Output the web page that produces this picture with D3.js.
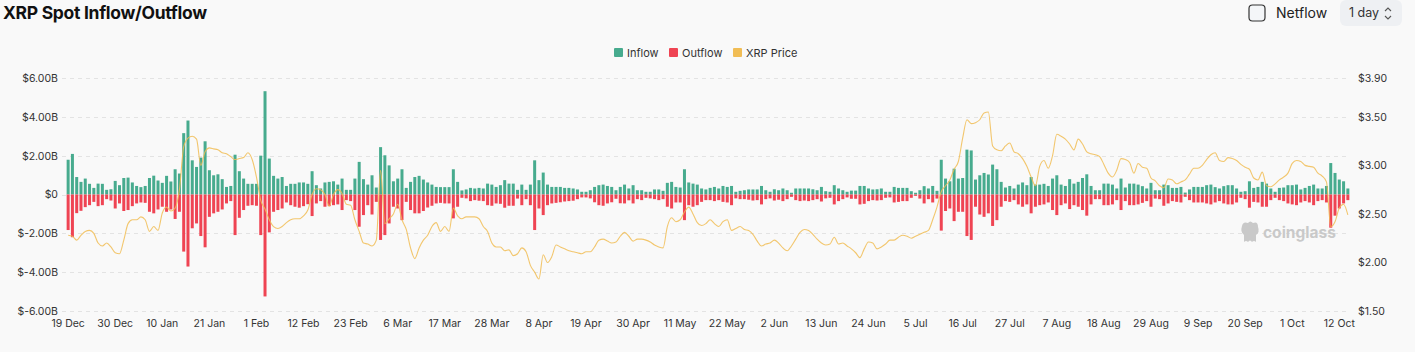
<!DOCTYPE html>
<html>
<head>
<meta charset="utf-8">
<script src="https://cdn.jsdelivr.net/npm/d3@7/dist/d3.min.js"></script>
<style>
  html, body { margin: 0; padding: 0; background: #f9f9f9; }
  svg { display: block; font-family: Inter, "Noto Sans", sans-serif; }
</style>
</head>
<body>
<div id="chart"></div>
<script>
// daily categories, 19 Dec 2024 .. 14 Oct 2025
var startDay = new Date( 2024, 11, 19 ),
  endDay = new Date( 2025, 9, 15 );
var days = d3.timeDay.range( startDay, endDay );

// spot inflow, $B per day
var inflow = [
  1.79, 2.09, 0.90, 0.65, 0.82, 0.55, 0.34, 0.56, 0.55, 0.24, 0.27, 0.70, 0.48, 0.85, 0.87, 0.62, 0.44, 0.38, 0.44, 0.85,
  0.97, 0.72, 0.60, 0.96, 0.67, 1.30, 1.08, 3.16, 3.81, 1.76, 1.42, 1.90, 2.74, 1.25, 0.99, 1.04, 0.79, 0.39, 0.44, 2.05,
  1.20, 0.82, 0.55, 0.55, 0.55, 2.00, 5.32, 1.85, 0.96, 0.82, 0.90, 0.44, 0.55, 0.55, 0.62, 0.62, 0.55, 1.20, 0.48, 0.31,
  0.62, 0.65, 0.68, 0.51, 0.82, 0.24, 0.24, 0.82, 1.68, 0.79, 0.51, 0.99, 0.36, 2.44, 2.02, 1.50, 0.68, 0.82, 1.30, 0.34,
  0.65, 0.90, 0.96, 0.77, 0.62, 0.51, 0.39, 0.38, 0.38, 0.38, 1.30, 0.65, 0.21, 0.26, 0.34, 0.31, 0.34, 0.31, 0.56, 0.51,
  0.39, 0.48, 0.74, 0.56, 0.56, 0.24, 0.51, 0.24, 0.51, 1.76, 0.74, 1.13, 0.51, 0.39, 0.39, 0.39, 0.34, 0.34, 0.31, 0.26,
  0.14, 0.14, 0.22, 0.39, 0.48, 0.51, 0.44, 0.39, 0.22, 0.39, 0.51, 0.31, 0.48, 0.22, 0.22, 0.14, 0.14, 0.26, 0.26, 0.19,
  0.60, 0.65, 0.39, 0.36, 1.30, 0.62, 0.56, 0.51, 0.31, 0.26, 0.34, 0.39, 0.31, 0.44, 0.39, 0.44, 0.14, 0.19, 0.22, 0.26,
  0.26, 0.26, 0.44, 0.22, 0.14, 0.27, 0.22, 0.31, 0.22, 0.09, 0.31, 0.31, 0.31, 0.31, 0.27, 0.22, 0.39, 0.17, 0.14, 0.48,
  0.31, 0.22, 0.14, 0.20, 0.20, 0.44, 0.44, 0.31, 0.26, 0.27, 0.31, 0.14, 0.14, 0.39, 0.34, 0.34, 0.34, 0.17, 0.09, 0.22,
  0.43, 0.31, 0.44, 0.19, 1.79, 0.82, 0.68, 1.33, 0.82, 0.85, 2.31, 2.27, 0.77, 0.99, 1.11, 1.03, 1.54, 1.30, 0.65, 0.36,
  0.44, 0.31, 0.51, 0.62, 0.48, 0.90, 0.51, 0.51, 0.55, 0.44, 0.82, 0.99, 0.51, 0.44, 0.79, 0.56, 0.65, 0.85, 1.04, 0.44,
  0.22, 0.22, 0.56, 0.56, 0.51, 0.31, 0.82, 0.36, 0.56, 0.56, 0.51, 0.43, 0.31, 0.60, 0.22, 0.22, 0.51, 0.48, 0.34, 0.34,
  0.39, 0.10, 0.26, 0.39, 0.39, 0.39, 0.48, 0.51, 0.38, 0.31, 0.43, 0.48, 0.48, 0.31, 0.14, 0.17, 0.68, 0.34, 0.39, 0.65,
  0.56, 0.31, 0.14, 0.34, 0.36, 0.48, 0.48, 0.51, 0.26, 0.34, 0.44, 0.51, 0.31, 0.31, 0.44, 1.62, 1.11, 0.77, 0.68, 0.31
];

// spot outflow, $B per day (drawn below zero)
var outflow = [
  1.83, 2.20, 0.96, 0.84, 0.65, 0.55, 0.38, 0.60, 0.55, 0.24, 0.31, 0.72, 0.46, 0.85, 0.80, 0.60, 0.46, 0.41, 0.43, 0.89,
  0.97, 0.77, 0.63, 0.89, 0.77, 1.26, 0.89, 2.94, 3.71, 1.74, 1.49, 2.14, 2.72, 1.15, 0.97, 0.89, 0.77, 0.46, 0.34, 2.09,
  1.20, 0.80, 0.58, 0.55, 0.58, 2.09, 5.25, 1.95, 0.89, 0.80, 0.72, 0.41, 0.55, 0.63, 0.68, 0.60, 0.50, 1.11, 0.46, 0.34,
  0.63, 0.60, 0.55, 0.51, 0.80, 0.29, 0.34, 0.80, 1.66, 1.06, 0.55, 1.03, 0.38, 2.34, 2.09, 1.49, 0.63, 0.72, 1.32, 0.38,
  0.80, 0.97, 0.97, 0.85, 0.67, 0.58, 0.46, 0.43, 0.46, 0.46, 1.23, 0.63, 0.17, 0.20, 0.34, 0.29, 0.32, 0.34, 0.55, 0.58,
  0.46, 0.48, 0.68, 0.58, 0.58, 0.21, 0.55, 0.24, 0.55, 1.83, 0.72, 1.06, 0.55, 0.46, 0.43, 0.40, 0.36, 0.34, 0.32, 0.24,
  0.15, 0.15, 0.20, 0.40, 0.55, 0.58, 0.46, 0.40, 0.22, 0.45, 0.46, 0.30, 0.46, 0.24, 0.29, 0.17, 0.20, 0.24, 0.29, 0.24,
  0.63, 0.72, 0.41, 0.41, 1.32, 0.55, 0.63, 0.55, 0.38, 0.29, 0.29, 0.34, 0.29, 0.38, 0.41, 0.55, 0.20, 0.24, 0.24, 0.27,
  0.31, 0.29, 0.51, 0.24, 0.20, 0.31, 0.27, 0.34, 0.24, 0.12, 0.29, 0.34, 0.31, 0.34, 0.29, 0.24, 0.36, 0.20, 0.17, 0.51,
  0.34, 0.24, 0.15, 0.22, 0.22, 0.51, 0.48, 0.34, 0.29, 0.31, 0.29, 0.17, 0.15, 0.41, 0.38, 0.34, 0.34, 0.17, 0.07, 0.21,
  0.46, 0.24, 0.41, 0.21, 1.86, 0.85, 0.72, 1.37, 0.89, 0.89, 2.14, 2.34, 0.63, 1.03, 1.15, 0.97, 1.62, 1.32, 0.63, 0.34,
  0.38, 0.29, 0.51, 0.63, 0.51, 0.97, 0.63, 0.55, 0.51, 0.41, 0.80, 1.06, 0.55, 0.46, 0.75, 0.55, 0.63, 0.80, 1.09, 0.51,
  0.24, 0.24, 0.55, 0.55, 0.51, 0.29, 0.80, 0.34, 0.55, 0.55, 0.51, 0.43, 0.34, 0.63, 0.21, 0.24, 0.58, 0.46, 0.34, 0.38,
  0.41, 0.12, 0.29, 0.41, 0.41, 0.41, 0.46, 0.51, 0.41, 0.34, 0.46, 0.51, 0.51, 0.41, 0.17, 0.24, 0.68, 0.38, 0.41, 0.63,
  0.63, 0.29, 0.17, 0.29, 0.34, 0.46, 0.51, 0.55, 0.41, 0.34, 0.41, 0.55, 0.34, 0.29, 0.41, 1.71, 1.09, 0.72, 0.46, 0.29
];

// XRP close price, $
var price = [
  2.28, 2.27, 2.23, 2.28, 2.32, 2.33, 2.30, 2.20, 2.17, 2.20, 2.16, 2.10, 2.09, 2.23, 2.40, 2.44, 2.44, 2.47, 2.44, 2.32,
  2.37, 2.33, 2.51, 2.57, 2.53, 2.56, 2.75, 3.19, 3.28, 3.30, 3.27, 3.00, 3.14, 3.18, 3.17, 3.16, 3.13, 3.12, 3.09, 3.06,
  3.07, 3.08, 3.13, 3.06, 2.88, 2.64, 2.55, 2.44, 2.37, 2.35, 2.37, 2.41, 2.44, 2.45, 2.45, 2.48, 2.54, 2.70, 2.76, 2.75,
  2.70, 2.58, 2.70, 2.75, 2.71, 2.60, 2.59, 2.44, 2.32, 2.20, 2.19, 2.17, 2.23, 2.95, 2.40, 2.45, 2.50, 2.60, 2.44, 2.34,
  2.15, 2.04, 2.15, 2.23, 2.28, 2.37, 2.41, 2.32, 2.37, 2.32, 2.56, 2.48, 2.45, 2.47, 2.47, 2.47, 2.45, 2.37, 2.32, 2.20,
  2.16, 2.16, 2.12, 2.13, 2.07, 2.09, 2.15, 2.11, 1.97, 1.90, 1.83, 2.08, 2.00, 2.06, 2.18, 2.16, 2.14, 2.12, 2.11, 2.10,
  2.09, 2.11, 2.11, 2.16, 2.23, 2.24, 2.22, 2.20, 2.21, 2.27, 2.31, 2.27, 2.22, 2.24, 2.24, 2.23, 2.21, 2.18, 2.16, 2.15,
  2.37, 2.46, 2.42, 2.44, 2.52, 2.57, 2.50, 2.41, 2.38, 2.40, 2.44, 2.40, 2.37, 2.42, 2.44, 2.33, 2.35, 2.37, 2.34, 2.33,
  2.29, 2.22, 2.17, 2.19, 2.20, 2.23, 2.20, 2.15, 2.12, 2.17, 2.24, 2.31, 2.34, 2.33, 2.29, 2.24, 2.20, 2.18, 2.19, 2.26,
  2.19, 2.20, 2.17, 2.14, 2.10, 2.05, 2.14, 2.21, 2.20, 2.14, 2.16, 2.19, 2.23, 2.23, 2.26, 2.28, 2.27, 2.25, 2.27, 2.29,
  2.31, 2.33, 2.44, 2.57, 2.73, 2.79, 2.85, 2.96, 3.04, 3.28, 3.47, 3.43, 3.44, 3.47, 3.54, 3.55, 3.20, 3.16, 3.15, 3.20,
  3.23, 3.14, 3.12, 3.07, 2.99, 2.88, 2.79, 2.99, 3.05, 2.97, 3.10, 3.32, 3.30, 3.27, 3.22, 3.16, 3.27, 3.22, 3.14, 3.12,
  3.11, 3.09, 3.01, 2.92, 2.88, 2.95, 3.07, 3.06, 3.03, 2.92, 3.02, 2.98, 2.97, 2.87, 2.84, 2.79, 2.77, 2.86, 2.85, 2.81,
  2.83, 2.85, 2.91, 2.97, 2.97, 3.00, 3.06, 3.11, 3.13, 3.05, 3.04, 3.08, 3.07, 3.05, 3.01, 2.98, 2.96, 2.87, 2.85, 2.93,
  2.79, 2.78, 2.81, 2.85, 2.88, 2.92, 3.02, 3.05, 3.04, 3.00, 2.99, 2.98, 2.92, 2.89, 2.83, 2.37, 2.42, 2.56, 2.60, 2.49
];

var flowTicks = [ -6e9, -4e9, -2e9, 0, 2e9, 4e9, 6e9 ];
var priceTicks = [ 1.5, 2.0, 2.5, 3.0, 3.5, 3.9 ];
var labelEvery = 11;

var width = 1415, height = 352;
var margin = { top: 78, right: 65, bottom: 41, left: 66 };
var colors = { inflow: "#47ab8e", outflow: "#ef4453", price: "#f1bd55" };

var svg = d3.select( "#chart" ).append( "svg" )
  .attr( "width", width )
  .attr( "height", height );

svg.append( "rect" )
  .attr( "width", width )
  .attr( "height", height )
  .style( "fill", "#f9f9f9" );

// Header
svg.append( "text" )
  .attr( "x", 3 )
  .attr( "y", 19 )
  .style( "font-size", "17.5px" )
  .style( "font-weight", "700" )
  .style( "fill", "#111" )
  .style( "letter-spacing", "-0.3px" )
  .text( "XRP Spot Inflow/Outflow" );

svg.append( "rect" )
  .attr( "x", 1249 )
  .attr( "y", 5 )
  .attr( "width", 16 )
  .attr( "height", 16 )
  .attr( "rx", 3.5 )
  .style( "fill", "#f4f6f8" )
  .style( "stroke", "#333" )
  .style( "stroke-width", 1.2 );

svg.append( "text" )
  .attr( "x", 1276 )
  .attr( "y", 18 )
  .style( "font-size", "14px" )
  .style( "fill", "#222" )
  .text( "Netflow" );

svg.append( "rect" )
  .attr( "x", 1340 )
  .attr( "y", 0 )
  .attr( "width", 62 )
  .attr( "height", 26 )
  .attr( "rx", 6 )
  .style( "fill", "#eef0f3" );

svg.append( "text" )
  .attr( "x", 1349 )
  .attr( "y", 17 )
  .style( "font-size", "12.5px" )
  .style( "fill", "#333" )
  .text( "1 day" );

svg.append( "path" )
  .attr( "d", "M1385,11 l3,-3 l3,3 M1385,16 l3,3 l3,-3" )
  .style( "fill", "none" )
  .style( "stroke", "#555" )
  .style( "stroke-width", 1.1 );

// Scales
var innerBottom = height - margin.bottom;
var x = d3.scaleBand()
  .domain( d3.range( days.length ) )
  .range( [ margin.left, width - margin.right ] )
  .paddingInner( 0.3 )
  .paddingOuter( 0.15 );

var y = d3.scaleLinear()
  .domain( [ -6e9, 6e9 ] )
  .range( [ innerBottom, margin.top ] );

var yPrice = d3.scaleLinear()
  .domain( [ 1.5, 3.9 ] )
  .range( [ innerBottom, margin.top ] );

// Legend
var legendItems = [
  { name: "Inflow", color: colors.inflow, x: 614 },
  { name: "Outflow", color: colors.outflow, x: 669 },
  { name: "XRP Price", color: colors.price, x: 733 }
];
var legend = svg.selectAll( ".legend" )
  .data( legendItems )
  .enter().append( "g" )
    .attr( "class", "legend" )
    .attr( "transform", d => "translate(" + d.x + ",48)" );
legend.append( "rect" )
  .attr( "width", 9 )
  .attr( "height", 9 )
  .attr( "rx", 1 )
  .style( "fill", d => d.color );
legend.append( "text" )
  .attr( "x", 13 )
  .attr( "y", 8.5 )
  .style( "font-size", "11px" )
  .style( "fill", "#333" )
  .text( d => d.name );

// Grid
svg.append( "g" )
  .selectAll( "line" )
  .data( flowTicks )
  .enter().append( "line" )
    .attr( "x1", margin.left - 4 )
    .attr( "x2", width - margin.right )
    .attr( "y1", d => Math.round( y( d ) ) + 0.5 )
    .attr( "y2", d => Math.round( y( d ) ) + 0.5 )
    .style( "stroke", "#e3e3e3" )
    .style( "stroke-dasharray", "4,4" );

// Left axis
var fmtFlow = function( d ) {
  if ( d === 0 ) return "$0";
  return "$" + ( d / 1e9 ).toFixed( 2 ) + "B";
};
var yAxis = svg.append( "g" )
  .attr( "transform", "translate(" + ( margin.left - 8 ) + ",0)" )
  .call( d3.axisLeft( y ).tickValues( flowTicks ).tickFormat( fmtFlow ).tickSize( 0 ).tickPadding( 0 ) );
yAxis.select( ".domain" ).remove();
yAxis.selectAll( "text" )
  .style( "font-family", "Inter, 'Noto Sans', sans-serif" )
  .style( "font-size", "10.5px" )
  .style( "fill", "#333" );

// Right axis
var yAxisR = svg.append( "g" )
  .attr( "transform", "translate(" + ( width - margin.right + 8 ) + ",0)" )
  .call( d3.axisRight( yPrice ).tickValues( priceTicks ).tickFormat( d => "$" + d.toFixed( 2 ) ).tickSize( 0 ).tickPadding( 0 ) );
yAxisR.select( ".domain" ).remove();
yAxisR.selectAll( "text" )
  .style( "font-family", "Inter, 'Noto Sans', sans-serif" )
  .style( "font-size", "10.5px" )
  .style( "fill", "#333" );

// Bottom axis
var fmtDay = d3.timeFormat( "%-d %b" );
var xAxis = svg.append( "g" )
  .attr( "transform", "translate(0," + ( innerBottom + 5 ) + ")" )
  .call( d3.axisBottom( x )
    .tickValues( d3.range( 0, days.length, labelEvery ) )
    .tickFormat( i => fmtDay( days[ i ] ) )
    .tickSize( 0 )
    .tickPadding( 4 ) );
xAxis.select( ".domain" ).remove();
xAxis.selectAll( "text" )
  .style( "font-family", "Inter, 'Noto Sans', sans-serif" )
  .style( "font-size", "10.5px" )
  .style( "fill", "#333" );

// Watermark
var wm = svg.append( "g" )
  .attr( "transform", "translate(1240,222)" )
  .style( "fill", "#c9c9c9" );
wm.append( "path" )
  .attr( "d", "M2,4 Q3,-1 8,1 Q10,-2 13,1 Q18,-1 18,5 Q20,10 16,13 L16,20 Q14,18 12,20 Q10,17 8,20 Q6,18 4,20 L4,13 Q0,10 2,4 Z" );
wm.append( "text" )
  .attr( "x", 23 )
  .attr( "y", 16 )
  .style( "font-size", "15.5px" )
  .style( "font-weight", "700" )
  .text( "coinglass" );

// Bars
var bars = svg.append( "g" );
bars.selectAll( ".bar.in" )
  .data( inflow )
  .enter().append( "rect" )
    .attr( "class", "bar in" )
    .attr( "x", ( d, i ) => x( i ) )
    .attr( "y", d => y( d * 1e9 ) )
    .attr( "width", x.bandwidth() )
    .attr( "height", d => y( 0 ) - y( d * 1e9 ) )
    .style( "fill", colors.inflow );

bars.selectAll( ".bar.out" )
  .data( outflow )
  .enter().append( "rect" )
    .attr( "class", "bar out" )
    .attr( "x", ( d, i ) => x( i ) )
    .attr( "y", y( 0 ) )
    .attr( "width", x.bandwidth() )
    .attr( "height", d => y( -d * 1e9 ) - y( 0 ) )
    .style( "fill", colors.outflow );

// Price line
var line = d3.line()
  .x( ( d, i ) => x( i ) + x.bandwidth() / 2 )
  .y( d => yPrice( d ) )
  .curve( d3.curveMonotoneX );

svg.append( "path" )
  .datum( price )
  .attr( "d", line )
  .style( "fill", "none" )
  .style( "stroke", colors.price )
  .style( "stroke-opacity", 0.85 )
  .style( "stroke-width", 1.1 );
</script>
</body>
</html>
